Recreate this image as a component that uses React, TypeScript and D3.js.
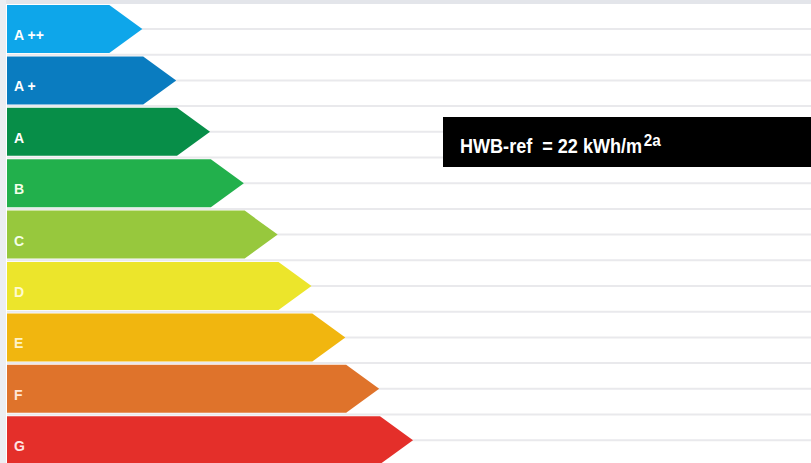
import React, { useLayoutEffect, useRef, useState } from "react";
import * as d3 from "d3";

const classes = ["A ++", "A +", "A", "B", "C", "D", "E", "F", "G"];
const classLengths = [4, 5, 6, 7, 8, 9, 10, 11, 12];
const classColors = ["#0ea6ea", "#0a7cc0", "#078e48", "#22b04c", "#97c83d", "#ece52b", "#f1b60f", "#df732b", "#e42f2a"];
const labelColors = ["#ffffff", "#ffffff", "#ffffff", "#f4ffe8", "#f4ffe8", "#fffbd0", "#fff3c8", "#ffe6d6", "#ffe4e4"];
const refLabel = "HWB-ref  = 22 kWh/m";
const refSup = "2a";

const W = 811;
const H = 463;

export default function App() {
  const mainRef = useRef<SVGTextElement>(null);
  const [mainLen, setMainLen] = useState(196);
  useLayoutEffect(() => {
    if (mainRef.current) setMainLen(mainRef.current.getComputedTextLength());
  }, []);

  const x = d3.scaleLinear().domain([0, 12]).range([7, 413]);
  const y = d3
    .scaleBand<string>()
    .domain(classes)
    .range([5, 5 + 9 * 51.4 - 3.4])
    .paddingInner(0.066)
    .paddingOuter(0)
    .align(0);
  const bh = y.bandwidth();
  const point = 33;

  const gridYs: number[] = [];
  classes.forEach((c) => {
    const top = y(c)!;
    gridYs.push(top + bh / 2);
    gridYs.push(top + bh + (y.step() - bh) / 2);
  });

  const sx = 182 / mainLen;

  return (
    <svg
      width={W}
      height={H}
      style={{ position: "absolute", left: 0, top: 0, background: "#ffffff" }}
    >
      <rect x={0} y={0} width={W} height={H} fill="#ffffff" />
      <rect x={0} y={0} width={W} height={4} fill="#e3e5ea" />
      <rect x={0} y={0} width={6} height={H} fill="#eceef2" />
      {gridYs.map((gy, i) => (
        <line key={i} x1={7} x2={W} y1={gy} y2={gy} stroke="#e9e9ec" strokeWidth={2} />
      ))}
      {classes.map((c, i) => {
        const top = y(c)!;
        const tip = x(classLengths[i]);
        const x0 = x(0);
        const path = d3.path();
        path.moveTo(x0, top);
        path.lineTo(tip - point, top);
        path.lineTo(tip, top + bh / 2);
        path.lineTo(tip - point, top + bh);
        path.lineTo(x0, top + bh);
        path.closePath();
        return (
          <g key={c}>
            <path d={path.toString()} fill={classColors[i]} />
            <text
              x={x0 + 7}
              y={top + bh / 2 + 11}
              fill={labelColors[i]}
              fontFamily="'Liberation Sans', Arial, sans-serif"
              fontWeight="bold"
              fontSize={14}
            >
              {c}
            </text>
          </g>
        );
      })}
      <rect x={443} y={117} width={W - 443} height={50} fill="#000000" />
      <g transform={`translate(460,153) scale(${sx},1)`}>
        <text
          ref={mainRef}
          x={0}
          y={0}
          fill="#ffffff"
          fontFamily="'Liberation Sans', Arial, sans-serif"
          fontWeight="bold"
          fontSize={20}
          style={{ whiteSpace: "pre" }}
        >
          {refLabel}
        </text>
        <text
          x={mainLen + 2}
          y={-7}
          fill="#ffffff"
          fontFamily="'Liberation Sans', Arial, sans-serif"
          fontWeight="bold"
          fontSize={17}
        >
          {refSup}
        </text>
      </g>
    </svg>
  );
}
